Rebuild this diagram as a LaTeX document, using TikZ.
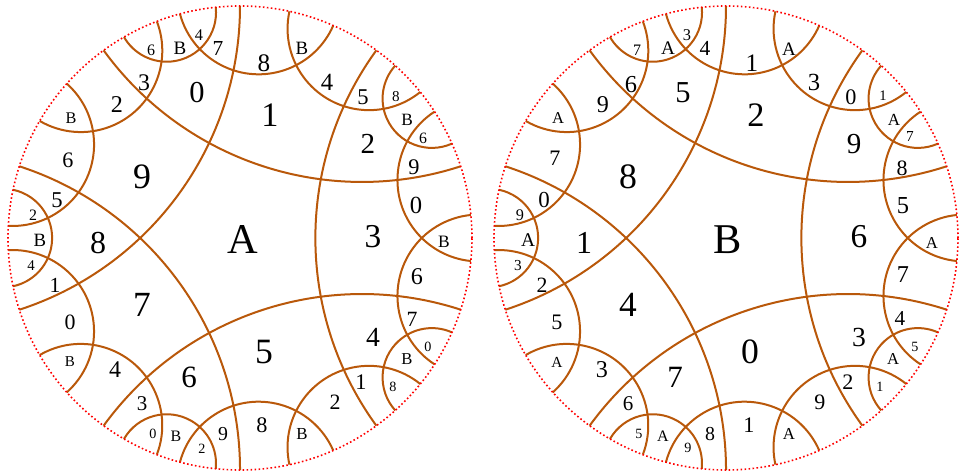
\documentclass[tikz,border=0pt]{standalone}
\usepackage{fontspec}
\setmainfont{Liberation Serif}
\definecolor{geoc}{RGB}{185,88,10}
\tikzset{
  geo/.style={draw=geoc, line width=1.5pt},
  rim/.style={draw=red, line width=1.2pt, dash pattern=on 1.2pt off 1.8pt},
  lab/.style={inner sep=0pt, text=black}
}
\newcounter{lb}
% geodesic between boundary angles #1 < #2 (degrees, math convention), disk radius 174pt
\newcommand\geod[2]{%
  \pgfmathsetmacro\ga{#1}%
  \pgfmathsetmacro\gb{#2}%
  \pgfmathsetmacro\gm{(\ga+\gb)/2}%
  \pgfmathsetmacro\gh{(\gb-\ga)/2}%
  \pgfmathsetmacro\gr{174*tan(\gh)}%
  \pgfmathsetmacro\gs{\gm+270-\gh}%
  \pgfmathsetmacro\gf{\gm+90+\gh}%
  \draw[geo] (\ga:174pt) arc[start angle=\gs, end angle=\gf, radius=\gr pt];
}
% label: disk centre x, x, y, text
\newcommand\lbl[4]{%
  \pgfmathsetmacro\lrr{(((#2)-(#1))/232)^2+(((#3)-238)/232)^2}%
  \pgfmathsetmacro\lfs{max(10.6,31.8*exp(0.6*ln(1-\lrr)))}%
  \stepcounter{lb}%
  \node[lab, font=\fontsize{\lfs pt}{\lfs pt}\selectfont] (lb\arabic{lb}) at (#2,#3) {#4};
}
\begin{document}
\begin{tikzpicture}[x=0.75pt, y=-0.75pt]
\useasboundingbox (0,0) rectangle (961,474);
\foreach \cx in {240,726} {
  \begin{scope}[shift={(\cx,238)}]
    \foreach \k in {0,72,144,216,288} {
      \geod{\k-54}{\k+54}
      \geod{\k-5.7}{\k+33}
      \geod{\k-33}{\k+5.7}
      \geod{\k+24}{\k+48}
    }
    \draw[rim] (0,0) circle[radius=174pt];
  \end{scope}
}
% left disk
\lbl{240}{243}{240}{A}
\foreach \x/\y/\t in {197/93/0,270/115/1,368/144/2,373/237/3,373/337/4,264/352/5,189/377/6,142/305/7,98/243/8,142/177/9,
  444/242/B,416/205/0,414/167/9,423/138/6,407/120/B,396/97/8,363/97/5,327/82/4,302/48/B,264/63/8,218/48/7,199/35/4,180/48/B,151/50/6,144/83/3,117/105/2,71/118/B,68/160/6,57/200/5,33/215/2,40/240/B,31/266/4,55/285/1,70/322/0,70/362/B,115/370/4,142/404/3,153/434/0,176/436/B,202/449/2,223/434/9,262/425/8,302/434/B,335/402/2,361/382/1,393/387/8,407/359/B,428/347/0,412/319/7,417/277/6}
  {\lbl{240}{\x}{\y}{\t}}
% right disk
\lbl{726}{728}{240}{B}
\foreach \x/\y/\t in {683/93/5,756/115/2,854/144/9,859/237/6,859/337/3,750/352/0,675/377/7,628/305/4,584/243/1,628/177/8,
  932/243/A,903/206/5,902/168/8,910/137/7,894/120/A,883/96/1,851/97/0,814/82/3,789/49/A,752/63/1,705/48/4,687/35/3,668/48/A,637/50/7,631/85/6,603/105/9,558/118/A,555/158/7,544/200/0,520/215/9,528/240/A,518/266/3,542/285/2,557/322/5,557/362/A,602/370/3,628/404/6,639/434/5,663/436/A,688/448/9,710/434/8,749/425/1,789/434/A,820/402/9,848/382/2,880/387/1,893/359/A,915/347/5,900/319/4,903/275/7}
  {\lbl{726}{\x}{\y}{\t}}
\end{tikzpicture}
\end{document}
